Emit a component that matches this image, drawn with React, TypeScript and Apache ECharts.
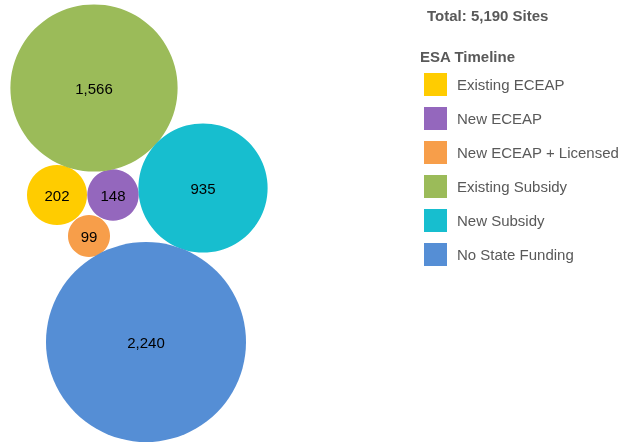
import React, { useEffect, useRef } from "react";
import * as echarts from "echarts";

const categories = [
  "Existing ECEAP",
  "New ECEAP",
  "New ECEAP + Licensed",
  "Existing Subsidy",
  "New Subsidy",
  "No State Funding",
];
const siteCounts = [202, 148, 99, 1566, 935, 2240];
const colors = ["#FFCC00", "#9467BD", "#F79E4A", "#9BBB59", "#17BECF", "#558ED5"];
// packed-bubble layout centres (layout positions in a 621x443 frame)
const layoutX = [57, 113, 89, 94, 203, 146];
const layoutY = [195, 195, 236, 88, 188, 342];
const totalLabel = "Total: 5,190 Sites";
const legendTitle = "ESA Timeline";

const FONT = "Arial";
const K = 2.113; // radius per sqrt(value)

export default function App() {
  const ref = useRef<HTMLDivElement>(null);
  useEffect(() => {
    const chart = echarts.init(ref.current!, null, { renderer: "svg" });
    chart.setOption({
      animation: false,
      textStyle: { fontFamily: FONT },
      grid: { left: 0, top: 0, right: 0, bottom: 0 },
      xAxis: { type: "value", min: 0, max: 621, show: false },
      yAxis: { type: "value", min: 0, max: 443, inverse: true, show: false },
      legend: {
        data: categories,
        orient: "vertical",
        left: 419,
        top: 68,
        itemWidth: 23,
        itemHeight: 23,
        itemGap: 11,
        icon: "rect",
        textStyle: { fontSize: 15, color: "#595959", fontFamily: FONT, padding: [0, 0, 0, 5] },
      },
      graphic: [
        {
          type: "text",
          left: 427,
          top: 8,
          style: { text: totalLabel, fontSize: 15, fontWeight: "bold", fill: "#595959", fontFamily: FONT },
        },
        {
          type: "text",
          left: 420,
          top: 49,
          style: { text: legendTitle, fontSize: 15, fontWeight: "bold", fill: "#595959", fontFamily: FONT },
        },
      ],
      series: categories.map((name, i) => ({
        name,
        type: "scatter",
        data: [[layoutX[i], layoutY[i], siteCounts[i]]],
        symbolSize: (d: number[]) => 2 * K * Math.sqrt(d[2]),
        itemStyle: { color: colors[i], opacity: 1 },
        label: {
          show: true,
          position: "inside",
          formatter: (p: any) => p.value[2].toLocaleString("en-US"),
          color: "#000",
          fontSize: 15,
          fontFamily: FONT,
        },
        emphasis: { disabled: true },
      })),
    });
    return () => chart.dispose();
  }, []);
  return (
    <div
      ref={ref}
      style={{ position: "fixed", left: 0, top: 0, width: 621, height: 443 }}
    />
  );
}
